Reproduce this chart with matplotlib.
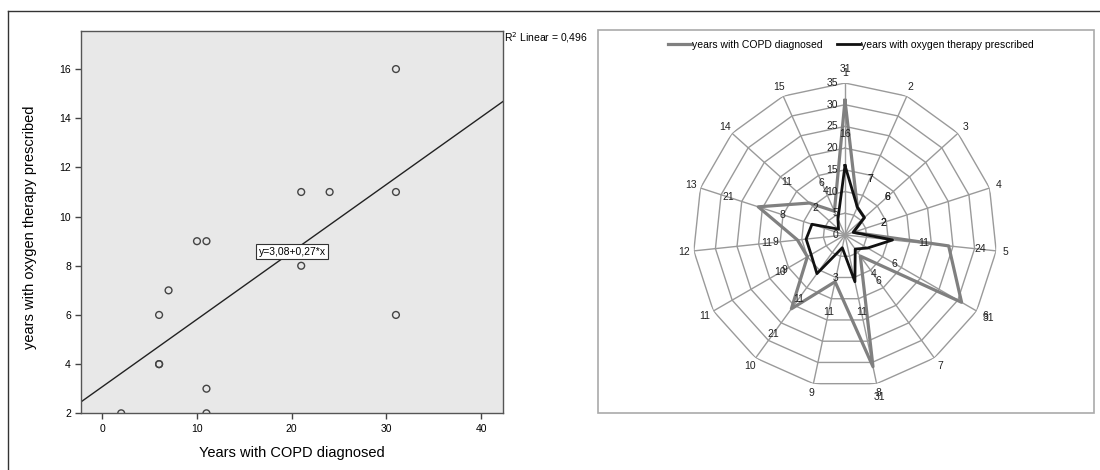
import numpy as np
import matplotlib
matplotlib.use("Agg")
import matplotlib.pyplot as plt
from matplotlib.lines import Line2D
from matplotlib.patches import Rectangle

plt.rcParams['font.family'] = ['Liberation Sans', 'DejaVu Sans']

# ---------------- data ----------------
patients = [str(i) for i in range(1, 16)]
copd_years = [31, 7, 6, 2, 24, 31, 6, 31, 11, 21, 10, 11, 21, 11, 6]
oxygen_years = [16, 7, 6, 2, 11, 6, 4, 11, 3, 11, 9, 9, 8, 2, 4]
x_ticks = [0, 10, 20, 30, 40]
y_ticks = [2, 4, 6, 8, 10, 12, 14, 16]
radar_ticks = [0, 5, 10, 15, 20, 25, 30, 35]
series_names = ['years with COPD diagnosed', 'years with oxygen therapy prescribed']

W, H = 1100, 470
fig = plt.figure(figsize=(11, 4.7), dpi=100)


def fx(px):
    return px / W


def fy(py):
    return 1 - py / H


# outer frame (top + left)
fig.add_artist(Line2D([fx(8), 1], [fy(11), fy(11)], color='#333333', lw=1))
fig.add_artist(Line2D([fx(8), fx(8)], [fy(11), 0], color='#333333', lw=1))

# ---------------- scatter ----------------
ax = fig.add_axes([fx(81.4), fy(413.3), fx(503 - 81.4), (413.3 - 30.7) / H])
ax.set_facecolor('#e8e8e8')
xl = (-2.2, 42.3)
ax.set_xlim(xl)
ax.set_ylim(2, 17.56)
ax.scatter(copd_years, oxygen_years, s=24, facecolors='none',
           edgecolors='#444444', linewidths=1.0, zorder=3)
slope, intercept = np.polyfit(copd_years, oxygen_years, 1)
r2 = np.corrcoef(copd_years, oxygen_years)[0, 1] ** 2
xs = np.array(xl)
ax.plot(xs, intercept + slope * xs, color='#222222', lw=1, zorder=2)
xm = (xl[0] + xl[1]) / 2
ax.text(xm, intercept + slope * xm,
        ('y=%.2f+%.2f*x' % (intercept, slope)).replace('.', ','),
        ha='center', va='center', fontsize=7.5, zorder=4,
        bbox=dict(facecolor='white', edgecolor='#333333',
                  boxstyle='square,pad=0.25', lw=0.8))
ax.set_xticks(x_ticks)
ax.set_yticks(y_ticks)
ax.tick_params(labelsize=7.5, length=4, color='#444444', width=1)
for sp in ax.spines.values():
    sp.set_color('#555555')
    sp.set_linewidth(1)
ax.set_xlabel('Years with COPD diagnosed', fontsize=10.5)
ax.xaxis.label.set_va('center')
ax.xaxis.set_label_coords(0.5, -0.104)
ax.set_ylabel('years with oxygen therapy prescribed', fontsize=10.5)
ax.yaxis.label.set_va('center')
ax.yaxis.set_label_coords(-0.122, 0.486)
fig.text(fx(504), fy(38), ('R$^2$ Linear = %.3f' % r2).replace('.', ','),
         ha='left', va='center', fontsize=7.5)

# ---------------- radar ----------------
fig.add_artist(Rectangle((fx(598), fy(412.7)), fx(1094 - 598), (412.7 - 30) / H,
                         transform=fig.transFigure, fill=False,
                         edgecolor='#aaaaaa', lw=1.2))

cx, cy, R = 845, 235, 152
pax = fig.add_axes([fx(cx - R), fy(cy + R), 2 * R / W, 2 * R / H], projection='polar')
pax.set_theta_offset(np.pi / 2)
pax.set_theta_direction(-1)
pax.set_ylim(0, radar_ticks[-1])
pax.grid(False)
pax.spines['polar'].set_visible(False)
pax.set_xticks([])
pax.set_yticks([])
pax.patch.set_alpha(0)

n = len(patients)
theta = np.linspace(0, 2 * np.pi, n, endpoint=False)
tc = np.append(theta, theta[0])

grid_col = '#9a9a9a'
for r in radar_ticks[1:]:
    pax.plot(tc, [r] * (n + 1), color=grid_col, lw=1, zorder=1)
for t in theta:
    pax.plot([t, t], [0, radar_ticks[-1]], color=grid_col, lw=1, zorder=1)

copd_c = np.append(copd_years, copd_years[0])
oxy_c = np.append(oxygen_years, oxygen_years[0])
l1, = pax.plot(tc, copd_c, color='#808080', lw=2.3, zorder=3, label=series_names[0])
l2, = pax.plot(tc, oxy_c, color='#111111', lw=2.0, zorder=4, label=series_names[1])

fs = 7.5
for r in radar_ticks:
    pax.annotate(str(r), xy=(0, r), xytext=(-5, 0), textcoords='offset points',
                 ha='right', va='center', fontsize=fs, color='#222222', zorder=5)
for t, lab in zip(theta, patients):
    pax.text(t, 37.2, lab, ha='center', va='center', fontsize=fs, color='#222222')
for t, v in zip(theta, copd_years):
    pax.text(t, v + 7.2, str(v), ha='center', va='center', fontsize=fs,
             color='#222222', zorder=6)
for t, v in zip(theta, oxygen_years):
    pax.text(t, v + 7.2, str(v), ha='center', va='center', fontsize=fs,
             color='#222222', zorder=6)

fig.legend(handles=[l1, l2], loc='center', bbox_to_anchor=(fx(851), fy(45)),
           ncol=2, frameon=False, fontsize=7.5, handlelength=2.2,
           handletextpad=0.1, columnspacing=1.4)

fig.savefig('out.png', dpi=100)
